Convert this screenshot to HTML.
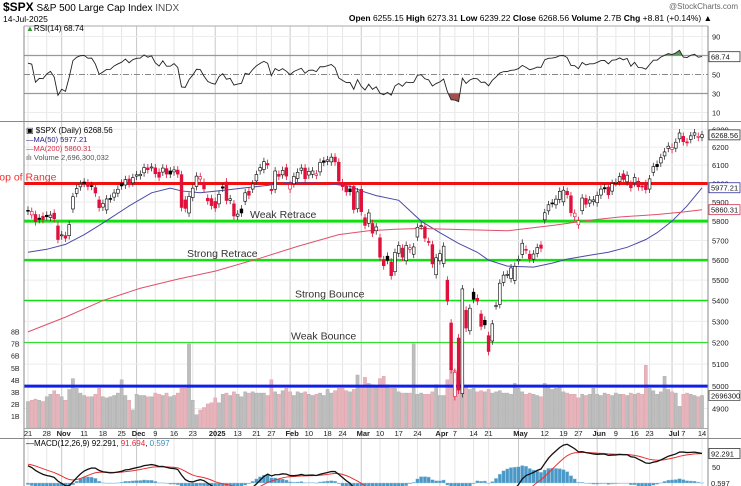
<!DOCTYPE html>
<html><head><meta charset="utf-8">
<style>
html,body{margin:0;padding:0;background:#fff;width:741px;height:486px;overflow:hidden;}
svg{display:block;font-family:"Liberation Sans",sans-serif;}
</style></head>
<body>
<svg id="c" width="741" height="486" viewBox="0 0 741 486" xmlns="http://www.w3.org/2000/svg">
<defs>
<clipPath id="cpPrice"><rect x="24" y="122" width="684" height="308"/></clipPath>
<clipPath id="cpRsi"><rect x="24" y="26" width="684" height="95"/></clipPath>
<clipPath id="cpMacd"><rect x="24" y="438" width="684" height="48"/></clipPath>
<clipPath id="cpAbove70"><rect x="24" y="26" width="684" height="29.5"/></clipPath>
<clipPath id="cpBelow30"><rect x="24" y="93.5" width="684" height="30"/></clipPath>
</defs>
<g id="bg"></g>
<g id="grid"></g>
<g id="vol" clip-path="url(#cpPrice)"></g>
<g id="levels"></g>
<g id="ma" clip-path="url(#cpPrice)"></g>
<g id="candles" clip-path="url(#cpPrice)"></g>
<g id="rsi"></g>
<g id="macd"></g>
<g id="axes"></g>
<g id="txt">
<text x="3" y="11" font-size="10"><tspan font-weight="bold" font-size="12">$SPX</tspan> S&amp;P 500 Large Cap Index <tspan fill="#555">INDX</tspan></text>
<text x="3" y="22" font-size="8.5">14-Jul-2025</text>
<text x="738" y="9" font-size="8" fill="#666" text-anchor="end">@StockCharts.com</text>
<text x="712" y="21" font-size="8.5" text-anchor="end"><tspan font-weight="bold">Open</tspan> 6255.15 <tspan font-weight="bold">High</tspan> 6273.31 <tspan font-weight="bold">Low</tspan> 6239.22 <tspan font-weight="bold">Close</tspan> 6268.56 <tspan font-weight="bold">Volume</tspan> 2.7B <tspan font-weight="bold">Chg</tspan> +8.81 (+0.14%) ▲</text>
<text x="26" y="31" font-size="8"><tspan fill="#393">▲</tspan>RSI(14) 68.74</text>
<text x="26" y="133" font-size="8">▣ $SPX (Daily) 6268.56</text>
<text x="26" y="142" font-size="7.5" fill="#22228a">—MA(50) 5977.21</text>
<text x="26" y="151" font-size="7.5" fill="#d2324a">—MA(200) 5860.31</text>
<text x="26" y="160" font-size="7.5" fill="#555">ılı Volume 2,696,300,032</text>
<text x="26" y="446" font-size="8">—MACD(12,26,9) 92.291, <tspan fill="#e23">91.694</tspan>, <tspan fill="#3a8fc0">0.597</tspan></text>
</g>
</svg>
<script>
// ---- data ----
const dates = ["Oct21","Oct22","Oct23","Oct24","Oct25","Oct28","Oct29","Oct30","Oct31",
"Nov1","Nov4","Nov5","Nov6","Nov7","Nov8","Nov11","Nov12","Nov13","Nov14","Nov15","Nov18","Nov19","Nov20","Nov21","Nov22","Nov25","Nov26","Nov27","Nov29",
"Dec2","Dec3","Dec4","Dec5","Dec6","Dec9","Dec10","Dec11","Dec12","Dec13","Dec16","Dec17","Dec18","Dec19","Dec20","Dec23","Dec24","Dec26","Dec27","Dec30","Dec31",
"Jan2","Jan3","Jan6","Jan7","Jan8","Jan10","Jan13","Jan14","Jan15","Jan16","Jan17","Jan21","Jan22","Jan23","Jan24","Jan27","Jan28","Jan29","Jan30","Jan31",
"Feb3","Feb4","Feb5","Feb6","Feb7","Feb10","Feb11","Feb12","Feb13","Feb14","Feb18","Feb19","Feb20","Feb21","Feb24","Feb25","Feb26","Feb27","Feb28",
"Mar3","Mar4","Mar5","Mar6","Mar7","Mar10","Mar11","Mar12","Mar13","Mar14","Mar17","Mar18","Mar19","Mar20","Mar21","Mar24","Mar25","Mar26","Mar27","Mar28","Mar31",
"Apr1","Apr2","Apr3","Apr4","Apr7","Apr8","Apr9","Apr10","Apr11","Apr14","Apr15","Apr16","Apr17","Apr21","Apr22","Apr23","Apr24","Apr25","Apr28","Apr29","Apr30",
"May1","May2","May5","May6","May7","May8","May9","May12","May13","May14","May15","May16","May19","May20","May21","May22","May23","May27","May28","May29","May30",
"Jun2","Jun3","Jun4","Jun5","Jun6","Jun9","Jun10","Jun11","Jun12","Jun13","Jun16","Jun17","Jun18","Jun20","Jun23","Jun24","Jun25","Jun26","Jun27","Jun30",
"Jul1","Jul2","Jul3","Jul7","Jul8","Jul9","Jul10","Jul11","Jul14"];
const closes = [5853,5851,5797,5809,5808,5823,5832,5813,5705,
5729,5712,5782,5929,5973,5996,6001,5984,5985,5949,5871,5893,5917,5918,5949,5969,5987,6021,5999,6032,
6047,6050,6087,6075,6090,6053,6034,6084,6051,6051,6074,6051,5872,5867,5931,5975,6040,6037,5971,5907,5882,
5869,5942,5975,5909,5918,5827,5837,5843,5950,5937,5997,6049,6086,6119,6101,5962,6068,6039,6071,6040,
5994,6038,6061,6084,6026,6066,6068,6052,6115,6115,6129,6144,6118,6013,5983,5955,5956,5861,5955,
5850,5778,5843,5738,5770,5615,5572,5599,5522,5639,5675,5615,5675,5663,5667,5768,5777,5712,5693,5581,5612,
5633,5671,5397,5074,5062,4982,5457,5268,5363,5406,5397,5276,5283,5158,5288,5376,5485,5525,5529,5561,5569,
5604,5686,5650,5607,5631,5664,5660,5844,5886,5893,5916,5958,5964,5940,5845,5842,5803,5922,5889,5912,5912,
5936,5970,5971,5939,6000,6006,6038,6022,6045,5977,6033,5982,5981,5967,6025,6092,6092,6141,6173,6205,
6198,6227,6279,6230,6226,6263,6280,6260,6269];
const opens = [5857,5833,5835,5816,5826,5831,5819,5842,5775,
5724,5725,5725,5864,5947,5982,6008,6003,5989,5978,5912,5874,5859,5920,5927,5948,6001,5992,6024,6004,
6040,6042,6058,6085,6087,6085,6061,6062,6081,6068,6063,6073,6048,5912,5843,5925,5984,6024,6006,5921,5919,
5904,5891,5982,6008,5910,5891,5826,5864,5905,5958,5970,6014,6069,6076,6109,5969,5969,6050,6047,6086,
5970,5999,6027,6072,6084,6046,6050,6044,6063,6124,6121,6118,6144,6116,6004,5987,5971,5984,5865,
5969,5818,5789,5788,5750,5714,5602,5620,5590,5542,5635,5661,5597,5655,5630,5718,5776,5771,5695,5679,5527,
5597,5583,5500,5292,4953,5221,4966,5353,5255,5441,5411,5335,5305,5232,5207,5375,5381,5489,5529,5508,5499,
5597,5629,5655,5630,5605,5634,5677,5807,5854,5896,5886,5915,5902,5958,5934,5823,5781,5855,5920,5895,5903,
5897,5938,5978,5981,5959,6005,6010,6052,6009,5996,6004,6012,5987,5999,5970,6061,6104,6112,6151,6193,
6187,6194,6246,6260,6229,6243,6267,6255,6255];
const volumes = [2.2,2.3,2.4,2.3,2.2,2.6,2.8,3.1,2.8,
2.6,2.3,3.2,4.1,3.3,2.9,2.7,2.6,2.6,2.8,3.3,2.6,2.5,2.6,2.7,2.9,4.0,2.7,2.3,1.5,
2.8,2.7,2.7,2.6,2.6,2.9,2.8,2.7,2.9,2.6,2.7,2.9,3.3,3.3,7.0,2.3,1.1,1.5,1.7,2.0,2.1,
2.5,2.1,2.8,2.9,2.7,3.0,2.8,2.6,3.0,2.9,3.0,2.9,2.9,2.9,2.7,4.0,3.0,2.8,3.1,3.3,
3.0,2.7,3.0,2.9,3.0,2.8,2.7,2.8,2.9,2.7,3.2,2.9,3.1,3.3,3.3,3.1,3.0,3.2,4.4,
3.5,4.2,3.7,3.6,3.5,4.1,4.3,3.6,3.3,3.3,3.0,2.9,2.9,2.9,7.0,2.8,2.9,2.8,2.8,3.0,3.6,
2.7,2.7,4.0,4.9,4.8,3.5,4.0,3.4,3.2,3.3,3.0,3.1,3.0,3.2,2.9,3.0,3.1,2.9,2.9,2.8,3.7,
3.3,3.0,2.8,2.9,2.8,2.7,2.6,3.7,3.4,3.2,3.3,3.4,3.0,2.9,2.8,2.8,2.5,2.8,2.7,2.8,3.3,
2.8,2.7,2.9,2.8,2.7,2.9,2.8,2.8,2.7,2.9,2.8,2.9,2.8,5.2,3.3,3.1,2.8,3.0,4.3,3.2,
3.0,2.9,1.8,2.8,2.9,2.8,2.7,2.6,2.7];
// moving averages sampled (day index, value)
const ma50Idx = [0,5,10,15,20,27,33,38,41,46,53,59,64,69,75,80,86,89,93,99,105,110,115,120,123,128,135,140,144,150,155,160,165,168,172,176,180];
const ma50Val = [5640,5655,5680,5730,5790,5880,5950,5975,5960,5950,5965,5979,5990,6005,6003,6000,5985,5960,5935,5910,5800,5740,5685,5640,5600,5570,5565,5585,5605,5625,5640,5665,5705,5740,5800,5880,5977];
const ma200Idx = [0,10,20,30,40,50,62,72,83,91,98,105,115,128,141,150,158,168,175,180];
const ma200Val = [5250,5320,5400,5460,5505,5545,5610,5670,5730,5750,5758,5762,5757,5750,5780,5805,5822,5835,5848,5860];
const priceTicks = [6300,6200,6100,6000,5900,5800,5700,5600,5500,5400,5300,5200,5100,5000,4900];
const volTicks = [1,2,3,4,5,6,7,8];
const rsiTicks = [90,50,30,10];
const dateLabels = [["21",0,0],["28",5,0],["Nov",9,1],["11",15,0],["18",20,0],["25",25,0],["Dec",29,1],["9",34,0],["16",39,0],["23",44,0],["2025",50,1],["13",56,0],["21",61,0],["27",65,0],["Feb",70,1],["10",75,0],["18",80,0],["24",84,0],["Mar",89,1],["10",94,0],["17",99,0],["24",104,0],["Apr",110,1],["7",114,0],["14",119,0],["21",123,0],["May",131,1],["12",138,0],["19",143,0],["27",147,0],["Jun",152,1],["9",157,0],["16",162,0],["23",166,0],["Jul",172,1],["7",175,0],["14",180,0]];
const levelVals = [6000,5800,5600,5400,5200,5000];
const levelNames = ["Top of Range","Weak Retrace","Strong Retrace","Strong Bounce","Weak Bounce",""];

// ---- scales ----
const NS="http://www.w3.org/2000/svg";
const X0=28, DX=(702-28)/180;
const xs = i => X0 + i*DX;
const yP = p => 129.3 + Math.log(6300/p)*1111;
const yV = v => 428 - v*12.05;
const yR = r => 122 - r*0.95;
const yM = m => 483 - m*0.32;
function mk(tag, attrs, parent){const e=document.createElementNS(NS,tag);for(const k in attrs)e.setAttribute(k,attrs[k]);parent.appendChild(e);return e;}
const G = id => document.getElementById(id);

// background & grid
const grid=G('grid');
mk('rect',{x:24,y:26,width:684,height:460,fill:'#fff',stroke:'none'},G('bg'));
dateLabels.forEach(d=>{const x=xs(d[1]);const l=mk('line',{x1:x,x2:x,y1:26,y2:486,stroke:d[2]?'#c8c8c8':'#e6e6e6','stroke-width':1},grid);

});
priceTicks.forEach(p=>{const l=mk('line',{x1:24,x2:708,y1:yP(p),y2:yP(p),stroke:'#ececec'},grid);

});
[90,10].forEach(r=>mk('line',{x1:24,x2:708,y1:yR(r),y2:yR(r),stroke:'#ececec'},grid));
[70,30].forEach(r=>mk('line',{x1:24,x2:708,y1:yR(r),y2:yR(r),stroke:'#999','stroke-width':1.2},grid));
mk('line',{x1:24,x2:708,y1:yR(50),y2:yR(50),stroke:'#888','stroke-dasharray':'6,2,1,2'},grid);

// volume
const vg=G('vol');
volumes.forEach((v,i)=>{const down=i>0&&closes[i]<closes[i-1];
const r=mk('rect',{x:xs(i)-1.6,y:yV(v),width:3.2,height:428-yV(v),fill:down?'#e8b4bc':'#bdbdbd',stroke:down?'#d99aa4':'#a8a8a8','stroke-width':0.4},vg);

});

// levels
const lg=G('levels');
const lw=[3,3,2.5,1.5,1.2,3], lc=['#f01010','#10e010','#10e010','#10e010','#30e030','#1020e8'];
levelVals.forEach((p,k)=>{const l=mk('line',{x1:24,x2:708,y1:yP(p),y2:yP(p),stroke:lc[k],'stroke-width':lw[k]},lg);

});
const lblPos=[[-6,'#f03030'],[250,'#333'],[187,'#333'],[295,'#333'],[291,'#333']];
levelNames.forEach((n,k)=>{if(!n)return;const t=mk('text',{x:lblPos[k][0],y:yP(levelVals[k])-3,'font-size':10.5,fill:lblPos[k][1]},lg);t.textContent=n;

});

// moving averages
const mg=G('ma');
const p50=mk('polyline',{points:ma50Idx.map((d,k)=>xs(d)+','+yP(ma50Val[k])).join(' '),fill:'none',stroke:'#4a4aa8','stroke-width':1},mg);


const p200=mk('polyline',{points:ma200Idx.map((d,k)=>xs(d)+','+yP(ma200Val[k])).join(' '),fill:'none',stroke:'#e0506a','stroke-width':1},mg);



// candles
const cg=G('candles');
closes.forEach((c,i)=>{const o=opens[i];const hi=Math.max(o,c)*1.0035, lo=Math.min(o,c)*0.9965;
const down=i>0&&c<closes[i-1]; const col=down?'#e0103a':'#000';
const w=mk('line',{x1:xs(i),x2:xs(i),y1:yP(hi),y2:yP(lo),stroke:down?'#e0103a':'#333','stroke-width':0.8},cg);


const top=yP(Math.max(o,c)), bh=Math.max(1,yP(Math.min(o,c))-top);
const r=mk('rect',{x:xs(i)-1.4,y:top,width:2.8,height:bh,fill:c>=o?'#fff':col,stroke:col,'stroke-width':0.6},cg);

});

// RSI
const rsi=[];let ag=6,al=3.7;rsi.push(100-100/(1+ag/al));
for(let i=1;i<closes.length;i++){const d=closes[i]-closes[i-1];ag=(ag*13+Math.max(d,0))/14;al=(al*13+Math.max(-d,0))/14;rsi.push(100-100/(1+ag/al));}
const rg=G('rsi');
const rpts=rsi.map((r,i)=>xs(i)+','+yR(r)).join(' ');
mk('polygon',{points:xs(0)+','+yR(70)+' '+rpts+' '+xs(180)+','+yR(70),fill:'#5a9a5a','clip-path':'url(#cpAbove70)'},rg);
mk('polygon',{points:xs(0)+','+yR(30)+' '+rpts+' '+xs(180)+','+yR(30),fill:'#a05050','clip-path':'url(#cpBelow30)'},rg);
const rl=mk('polyline',{points:rpts,fill:'none',stroke:'#222','stroke-width':0.9,'clip-path':'url(#cpRsi)'},rg);



// MACD
let e12=closes[0]+20,e26=closes[0]-40,sig=60;const mac=[],sg=[];
closes.forEach(c=>{e12=e12+(c-e12)*2/13;e26=e26+(c-e26)*2/27;const m=e12-e26;sig=sig+(m-sig)*2/10;mac.push(m);sg.push(sig);});
const mcg=G('macd');const mclip=mk('g',{'clip-path':'url(#cpMacd)'},mcg);
mac.forEach((m,i)=>{const h=m-sg[i];const y1=yM(Math.max(h,0)),y2=yM(Math.min(h,0));
const r=mk('rect',{x:xs(i)-1.7,y:y1,width:3.4,height:Math.max(0.5,y2-y1),fill:'#4a98c8',stroke:'#a8cce0','stroke-width':0.4},mclip);

});
const sl=mk('polyline',{points:sg.map((s,i)=>xs(i)+','+yM(s)).join(' '),fill:'none',stroke:'#e83030','stroke-width':1},mclip);


const ml=mk('polyline',{points:mac.map((m,i)=>xs(i)+','+yM(m)).join(' '),fill:'none',stroke:'#111','stroke-width':1.3},mclip);



// axes
const ax=G('axes');
mk('line',{x1:24,x2:24,y1:26,y2:486,stroke:'#888'},ax);
mk('line',{x1:708,x2:708,y1:26,y2:486,stroke:'#888'},ax);
mk('line',{x1:24,x2:708,y1:26,y2:26,stroke:'#aaa'},ax);
mk('line',{x1:0,x2:741,y1:121.5,y2:121.5,stroke:'#888'},ax);
mk('line',{x1:24,x2:708,y1:428.5,y2:428.5,stroke:'#aaa'},ax);
mk('line',{x1:0,x2:741,y1:438.5,y2:438.5,stroke:'#888'},ax);
function txt(s,x,y,o){const t=mk('text',Object.assign({x:x,y:y,'font-size':7.5,fill:'#222'},o||{}),ax);t.textContent=s;return t;}
priceTicks.forEach(p=>{const t=txt(p,712,yP(p)+3);

});
volTicks.forEach(v=>{const t=txt(v+'B',11,yV(v)+3,{'font-size':7});

});
rsiTicks.forEach(r=>{const t=txt(r,712,yR(r)+3);

});
txt('50',712,yM(50)+3);
dateLabels.forEach(d=>{const t=txt(d[0],xs(d[1])+(d[2]?2:0),436,{'font-size':7.5,'font-weight':d[2]?'bold':'normal','text-anchor':'middle'});

});
function box(s,y,col){mk('rect',{x:709,y:y-5,width:31,height:10,fill:'#fff',stroke:col,'stroke-width':0.8},ax);txt(s,711,y+3,{fill:'#111','font-size':7.5});}
box('6268.56',yP(6268.56),'#333');
box('5977.21',yP(5977.21),'#3030a0');
box('5860.31',yP(5860.31),'#d03050');
box('2696300',yV(2.6963),'#555');
box('68.74',yR(68.74),'#333');
box('92.291',yM(92.291),'#333');
txt('0.597',711,yM(0)+3);
</script>
</body></html>
